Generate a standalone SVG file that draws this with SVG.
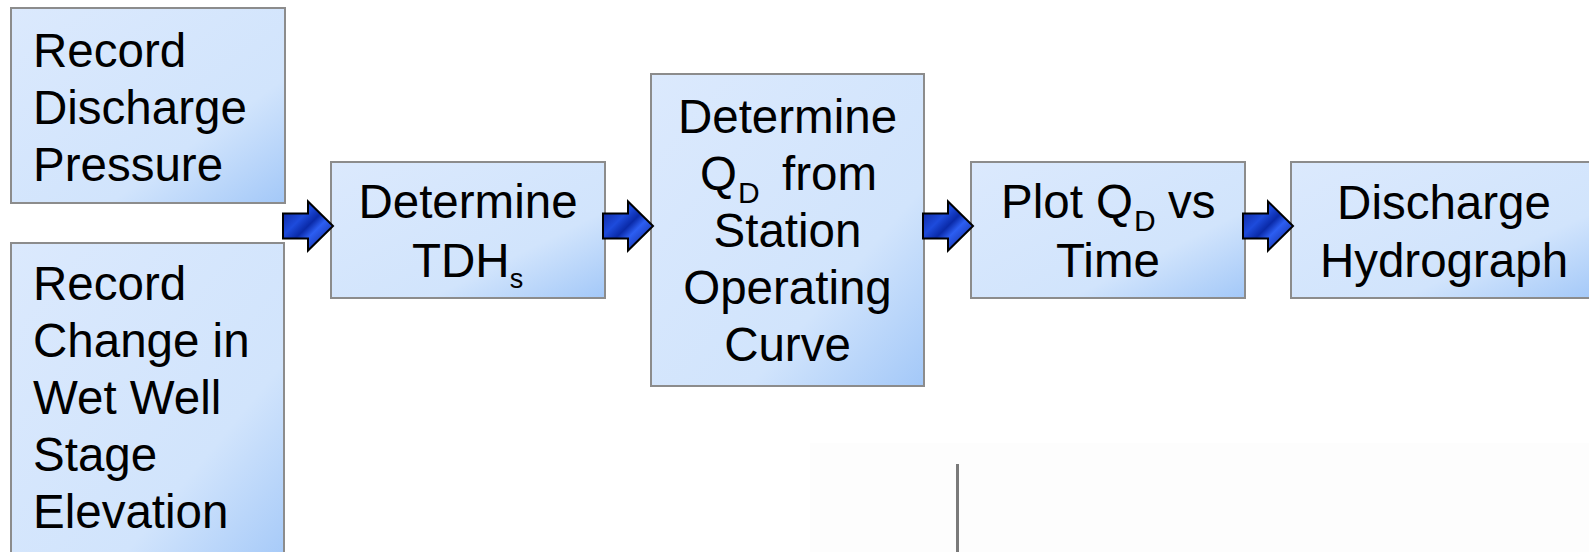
<svg xmlns="http://www.w3.org/2000/svg" width="1589" height="552" viewBox="0 0 1589 552">
<defs>
<linearGradient id="boxg" x1="0" y1="0" x2="1" y2="1">
<stop offset="0" stop-color="#dbe9fd"/>
<stop offset="0.68" stop-color="#d1e4fc"/>
<stop offset="1" stop-color="#a3c8f8"/>
</linearGradient>
<linearGradient id="arrg" x1="0" y1="0" x2="1" y2="1">
<stop offset="0" stop-color="#0a1c8c"/>
<stop offset="0.35" stop-color="#1d4bdc"/>
<stop offset="0.5" stop-color="#0a2aa8"/>
<stop offset="0.62" stop-color="#2c5ef2"/>
<stop offset="1" stop-color="#0a1a82"/>
</linearGradient>
<path id="arr" d="M0,-12.5 H25 V-24.5 L50,0 L25,24.5 V12.5 H0 Z"/>
</defs>
<style>
.box{fill:url(#boxg);stroke:#8c8c8c;stroke-width:2}
.t{font-family:"Liberation Sans",Arial,sans-serif;font-size:47.5px;fill:#000}
.m{text-anchor:middle}
.sub{font-size:30px}
.arrow{fill:url(#arrg);stroke:#000;stroke-width:2;stroke-linejoin:miter}
</style>
<rect width="1589" height="552" fill="#fff"/>
<rect x="810" y="443" width="779" height="109" fill="#fdfdfd"/>
<line x1="957.5" y1="464" x2="957.5" y2="552" stroke="#7a7a7a" stroke-width="3"/>

<g id="n1">
<rect class="box" x="11" y="8" width="274" height="195"/>
<text class="t" x="33" y="67">Record</text>
<text class="t" x="33" y="124">Discharge</text>
<text class="t" x="33" y="181">Pressure</text>
</g>

<g id="n2">
<rect class="box" x="11" y="243" width="273" height="330"/>
<text class="t" x="33" y="300">Record</text>
<text class="t" x="33" y="357">Change in</text>
<text class="t" x="33" y="414">Wet Well</text>
<text class="t" x="33" y="471">Stage</text>
<text class="t" x="33" y="528">Elevation</text>
</g>

<g id="n3">
<rect class="box" x="331" y="162" width="274" height="136"/>
<text class="t m" x="468" y="218">Determine</text>
<text class="t" x="412" y="277">TDH<tspan font-size="27px" dy="11">s</tspan></text>
</g>

<g id="n4">
<rect class="box" x="651" y="74" width="273" height="312"/>
<text class="t m" x="787.5" y="133">Determine</text>
<text class="t" x="700" y="190">Q</text>
<text class="t sub" x="738" y="203">D</text>
<text class="t" x="782" y="190">from</text>
<text class="t m" x="787.5" y="247">Station</text>
<text class="t m" x="787.5" y="304">Operating</text>
<text class="t m" x="787.5" y="361">Curve</text>
</g>

<g id="n5">
<rect class="box" x="971" y="162" width="274" height="136"/>
<text class="t" x="1001" y="218">Plot Q</text>
<text class="t sub" x="1134" y="231">D</text>
<text class="t" x="1168" y="218">vs</text>
<text class="t m" x="1108" y="277">Time</text>
</g>

<g id="n6">
<rect class="box" x="1291" y="162" width="306" height="136"/>
<text class="t m" x="1444" y="219">Discharge</text>
<text class="t m" x="1444" y="277">Hydrograph</text>
</g>

<g id="connectors">
<use href="#arr" class="arrow" x="283" y="226"/>
<use href="#arr" class="arrow" x="603" y="226"/>
<use href="#arr" class="arrow" x="923" y="226"/>
<use href="#arr" class="arrow" x="1243" y="226"/>
</g>
</svg>
